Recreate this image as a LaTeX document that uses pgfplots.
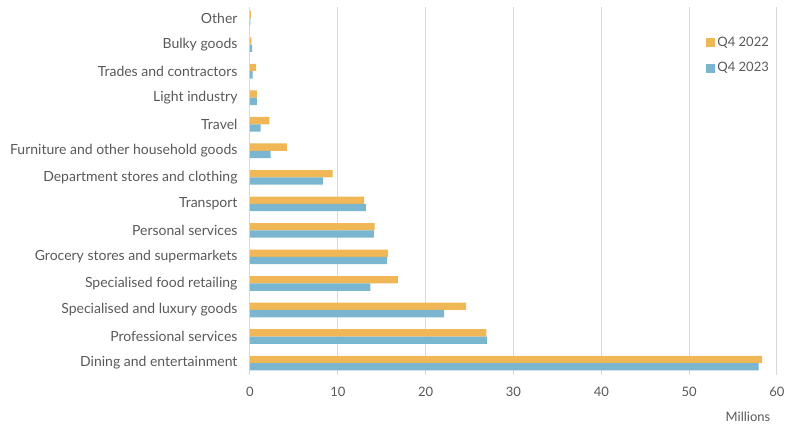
\documentclass[border=0pt]{standalone}
\usepackage{pgfplots}
\pgfplotsset{compat=1.18}
\usepackage{fontspec}
\setmainfont{Lato}
\definecolor{orangeC}{RGB}{240,183,86}
\definecolor{blueC}{RGB}{123,182,208}
\definecolor{txtC}{RGB}{89,89,89}
\definecolor{gridC}{RGB}{217,217,217}
\begin{document}
\begin{tikzpicture}
\fontsize{13}{15}\selectfont
\begin{axis}[
  at={(0,0)}, anchor=south west,
  width=527pt, height=368pt, scale only axis,
  xbar, bar width=7.3pt,
  xmin=0, xmax=60, ymin=-0.45, ymax=13.42,
  xtick={0,10,...,60},
  ytick={0,...,13},
  yticklabels={Dining and entertainment,Professional services,Specialised and luxury goods,Specialised food retailing,Grocery stores and supermarkets,Personal services,Transport,Department stores and clothing,Furniture and other household goods,Travel,Light industry,Trades and contractors,Bulky goods,Other},
  xmajorgrids, major grid style={gridC, line width=1pt},
  axis line style={draw=none},
  major tick length=0pt,
  tick label style={font=\fontsize{13}{15}\selectfont, text=txtC},
  yticklabel style={xshift=-8pt, font=\fontsize{14}{16}\selectfont},
  xticklabel style={yshift=-8pt},
  /pgf/number format/assume math mode=true,
  clip=false,
  legend style={draw=none, fill=none, at={(rel axis cs:0.86,0.93)}, anchor=north west, font=\fontsize{13}{15}\selectfont, text=txtC, row sep=10pt, cells={anchor=west}},
  legend cell align=left,
]
\addplot[fill=orangeC, draw=none, bar shift=3.65pt,
  legend image code/.code={\fill[orangeC] (0pt,-4.5pt) rectangle (9pt,4.5pt);}]
  coordinates {(58.3,0) (26.9,1) (24.6,2) (16.85,3) (15.7,4) (14.2,5) (13.0,6) (9.4,7) (4.2,8) (2.2,9) (0.78,10) (0.7,11) (0.17,12) (0.1,13)};
\addlegendentry{Q4 2022}
\addplot[fill=blueC, draw=none, bar shift=-3.65pt,
  legend image code/.code={\fill[blueC] (0pt,-4.5pt) rectangle (9pt,4.5pt);}]
  coordinates {(57.9,0) (27.0,1) (22.1,2) (13.7,3) (15.6,4) (14.1,5) (13.2,6) (8.3,7) (2.35,8) (1.2,9) (0.78,10) (0.3,11) (0.25,12) (0.05,13)};
\addlegendentry{Q4 2023}
\node[text=txtC, font=\fontsize{13}{15}\selectfont] at (rel axis cs:0.945,-0.114) {Millions};
\end{axis}
\pgfresetboundingbox
\path (-250pt,-50pt) rectangle (545pt,375pt);
\end{tikzpicture}
\end{document}
